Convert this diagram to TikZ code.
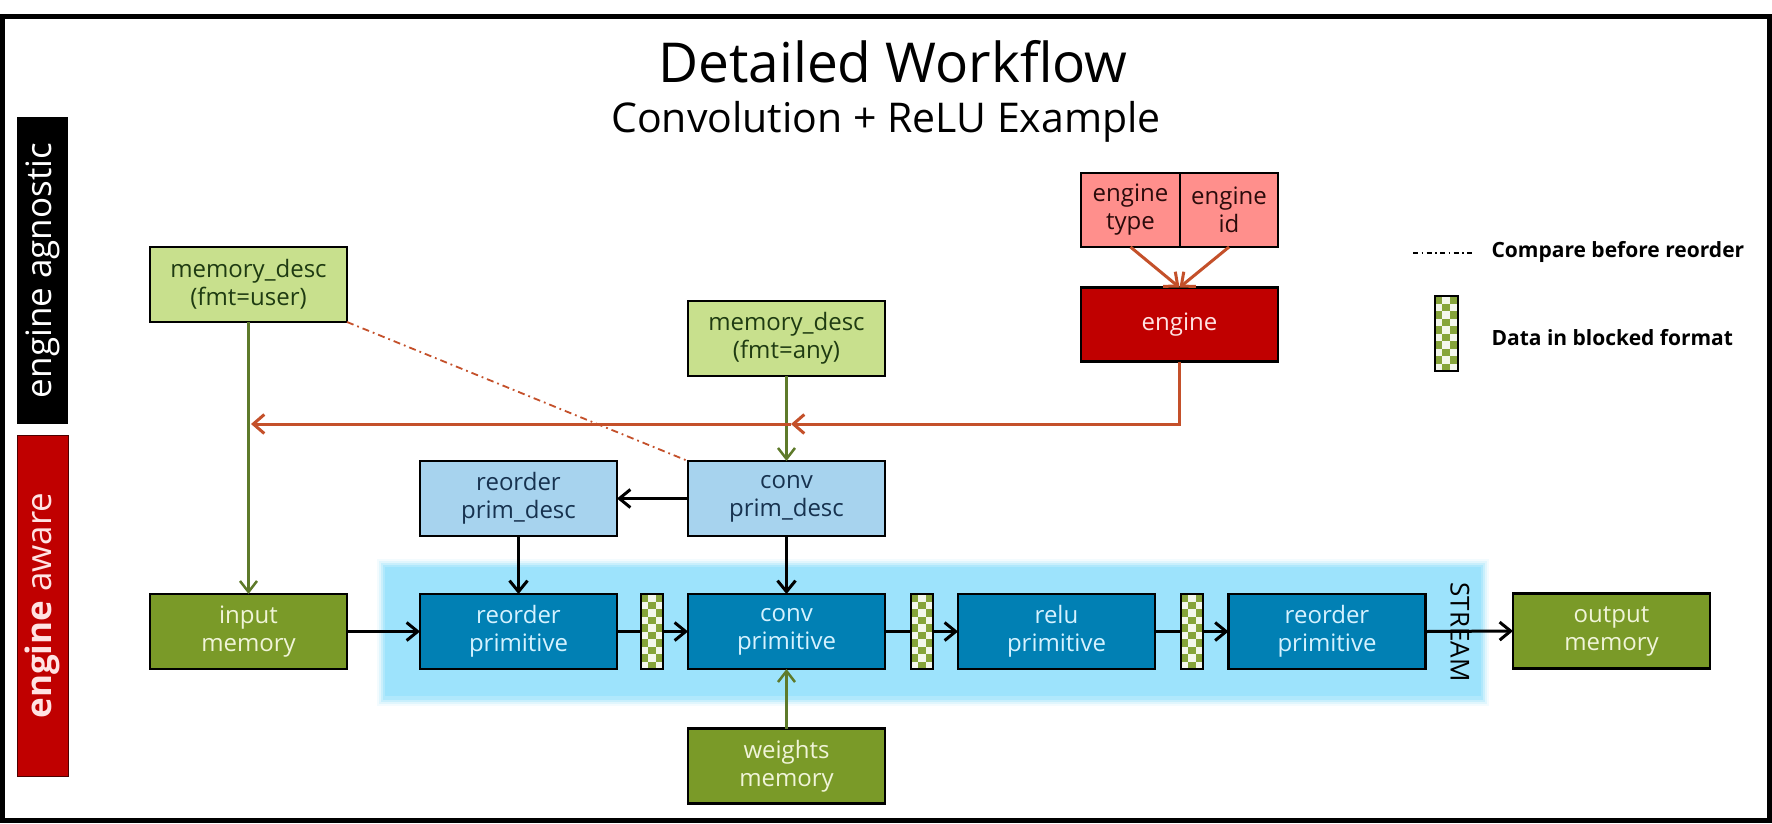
\documentclass[tikz,border=0pt]{standalone}
\usepackage{fontspec}
\setmainfont{Open Sans}
\usetikzlibrary{arrows.meta}
\definecolor{memlight}{HTML}{C8E08D}
\definecolor{memtext}{HTML}{1F3B12}
\definecolor{pdblue}{HTML}{A7D3EE}
\definecolor{pdtext}{HTML}{17324F}
\definecolor{primblue}{HTML}{0180B4}
\definecolor{primtext}{HTML}{D5F2FF}
\definecolor{olive}{HTML}{7A9A28}
\definecolor{olivetext}{HTML}{F0F4D8}
\definecolor{salmon}{HTML}{FF8F8C}
\definecolor{salmontext}{HTML}{2B0B0B}
\definecolor{engred}{HTML}{C00000}
\definecolor{engtext}{HTML}{FFE3E3}
\definecolor{redline}{HTML}{C4502A}
\definecolor{streamblue}{HTML}{9DE3FC}
\definecolor{greenline}{HTML}{5E7A2A}
\definecolor{patchg}{HTML}{86A43A}
\definecolor{patchw}{HTML}{F4F7EC}
\begin{document}
\begin{tikzpicture}[x=1pt,y=-1pt,
  box/.style={draw=black, line width=2.5pt, minimum width=197pt, minimum height=75pt,
    inner sep=0pt, outer sep=0pt, align=center, font=\fontsize{24}{28}\selectfont},
  memdesc/.style={box, fill=memlight, text=memtext},
  primdesc/.style={box, fill=pdblue, text=pdtext},
  prim/.style={box, fill=primblue, text=primtext},
  olivemem/.style={box, fill=olive, text=olivetext},
  patch/.style={draw=black, line width=2pt, minimum width=22pt, minimum height=75pt,
    inner sep=0pt, outer sep=0pt, fill=patchw,
    path picture={
      \foreach \r in {0,...,10}{\foreach \c in {0,1,2}{
        \pgfmathtruncatemacro\k{mod(\r+\c,2)}
        \ifnum\k=0
          \fill[patchg] ([xshift=\c*7.4pt, yshift=-\r*7.5pt]path picture bounding box.north west) rectangle ++(7.4pt,-7.5pt);
        \fi}}}},
  barr/.style={line width=3pt, -{Straight Barb[length=11pt,width=18pt]}},
  bline/.style={line width=3pt},
  garr/.style={draw=greenline, line width=2.5pt, -{Straight Barb[length=11pt,width=17pt]}},
  rarr/.style={draw=redline, line width=3pt, -{Straight Barb[length=11pt,width=19pt]}},
  dashdot/.style={draw=redline, line width=1.8pt, dash pattern=on 7pt off 4pt on 1.8pt off 4pt},
]
\useasboundingbox (0,0) rectangle (1772,823);
\fill[white] (0,0) rectangle (1772,823);

% stream region (soft edges)
\foreach \d/\o in {8/0.12,6/0.2,4/0.35,2/0.55}{
  \fill[streamblue, opacity=\o] (385-\d,567-\d) rectangle (1481+\d,698+\d);}
\fill[streamblue] (385,567) rectangle (1481,696);

% frame
\draw[line width=5pt] (2.5,16.5) rectangle (1769.5,820.5);

% title
\node[anchor=base, font=\fontsize{55}{60}\selectfont] (title) at (893,82) {Detailed Workflow};
\node[anchor=base, font=\fontsize{41}{48}\selectfont] (subtitle) at (886,132) {Convolution + ReLU Example};

% side labels
\node[fill=black, rotate=90, minimum width=307pt, minimum height=51pt, inner sep=0pt,
  text=white, font=\fontsize{35}{35}\selectfont] (agn) at (42.5,270.5) {engine agnostic};
\node[fill=engred, draw=black!70!red, line width=1pt, rotate=90, minimum width=341pt, minimum height=51pt,
  inner sep=0pt, text=engtext, font=\fontsize{35}{35}\selectfont] (awr) at (42.5,605.5) {\textbf{engine} aware};

% nodes
\node[memdesc] (memuser) at (248.5,284.5) {memory\_desc\\(fmt=user)};
\node[memdesc] (memany) at (786.5,338.5) {memory\_desc\\(fmt=any)};
\node[box, fill=salmon, text=salmontext, minimum width=99pt, minimum height=74pt] (etype) at (1130.5,210) {engine\\type};
\node[box, fill=salmon, text=salmontext, minimum width=98pt, minimum height=74pt] (eid) at (1229,210) {engine\\id};
\node[box, fill=engred, text=engtext, minimum height=74pt] (engine) at (1179.5,324.5) {engine};
\node[primdesc] (reorderpd) at (518.5,498.5) {reorder\\prim\_desc};
\node[primdesc] (convpd) at (786.5,498.5) {conv\\prim\_desc};
\node[olivemem] (input) at (248.5,631.5) {input\\memory};
\node[prim] (reorder1) at (518.5,631.5) {reorder\\primitive};
\node[prim] (conv) at (786.5,631.5) {conv\\primitive};
\node[prim] (relu) at (1056.5,631.5) {relu\\primitive};
\node[prim] (reorder2) at (1327,631.5) {reorder\\primitive};
\node[olivemem] (output) at (1611.5,631) {output\\memory};
\node[olivemem] (weights) at (786.5,766) {weights\\memory};
\node[patch] (p1) at (652,631.5) {};
\node[patch] (p2) at (922,631.5) {};
\node[patch] (p3) at (1192,631.5) {};

\node[rotate=-90, font=\fontsize{26}{26}\selectfont] (stream) at (1460,632) {STREAM};

% legend
\coordinate (l1) at (1413,253);
\coordinate (l2) at (1475,253);
\draw[line width=1.5pt, dash pattern=on 5pt off 3.5pt on 1.5pt off 3.5pt] (l1) -- (l2);
\node[anchor=base west, font=\bfseries\fontsize{21}{24}\selectfont] (leg1) at (1488,257) {Compare before reorder};
\node[patch, minimum width=23pt] (lp) at (1446.5,333.5) {};
\node[anchor=base west, font=\bfseries\fontsize{21}{24}\selectfont] (leg2) at (1488,345) {Data in blocked format};

% connectors
\draw[dashdot] (memuser.south east) -- (convpd.north west);
\draw[garr] (memuser.south) -- (input.north);
\draw[garr] (memany.south) -- (convpd.north);
\draw[garr] (weights.north) -- (conv.south);

\draw[rarr] (etype.south) -- (engine.north);
\draw[rarr] (eid.south) -- (engine.north);
\coordinate (redturn) at (1179.5,424);
\coordinate (redconv) at (791,424);
\coordinate (reduser) at (251,424);
\draw[rarr] (redconv) -- (reduser);
\draw[rarr] (engine.south) -- (redturn) -- (redconv);

\draw[barr] (convpd.west) -- (reorderpd.east);
\draw[barr] (reorderpd.south) -- (reorder1.north);
\draw[barr] (convpd.south) -- (conv.north);
\draw[barr] (input.east) -- (reorder1.west);
\draw[bline] (reorder1.east) -- (p1.west);
\draw[barr] (p1.east) -- (conv.west);
\draw[bline] (conv.east) -- (p2.west);
\draw[barr] (p2.east) -- (relu.west);
\draw[bline] (relu.east) -- (p3.west);
\draw[barr] (p3.east) -- (reorder2.west);
\draw[barr] (reorder2.east) -- (output.west);
\end{tikzpicture}
\end{document}
